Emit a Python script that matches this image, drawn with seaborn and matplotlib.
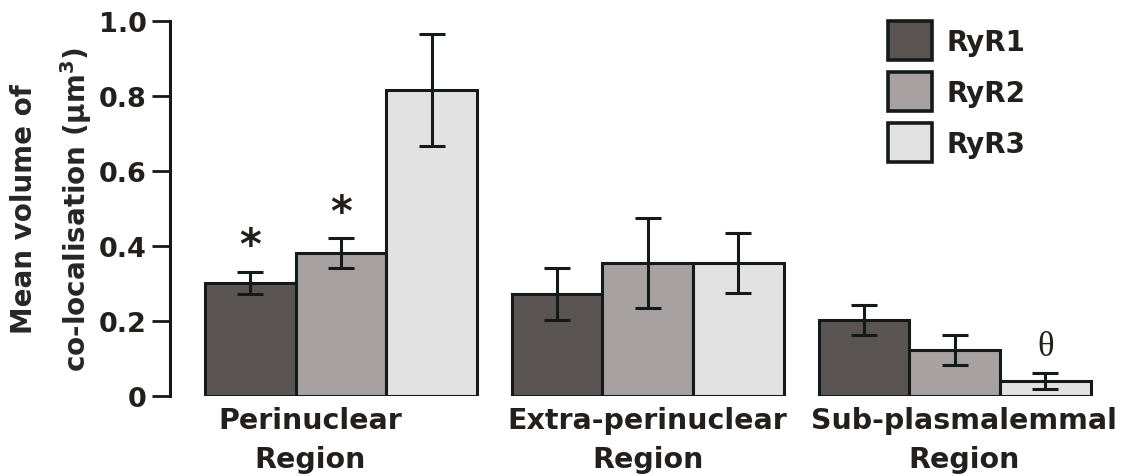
#!/usr/bin/env python3

import numpy as np
import pandas as pd
import seaborn as sns
import matplotlib.pyplot as plt

regions = ["Perinuclear\nRegion", "Extra-perinuclear\nRegion", "Sub-plasmalemmal\nRegion"]
isoforms = ["RyR1", "RyR2", "RyR3"]
# values per isoform, one per region
ryr1 = [0.302, 0.272, 0.203]
ryr2 = [0.382, 0.355, 0.123]
ryr3 = [0.816, 0.355, 0.041]
ryr1_err = [0.030, 0.070, 0.040]
ryr2_err = [0.040, 0.120, 0.040]
ryr3_err = [0.150, 0.081, 0.021]
ryr1_sig = ["*", "", ""]
ryr2_sig = ["*", "", ""]
ryr3_sig = ["", "", "θ"]
yticks = [0, 0.2, 0.4, 0.6, 0.8, 1.0]
ytick_labels = ["0", "0.2", "0.4", "0.6", "0.8", "1.0"]

colors = ["#5a5553", "#a7a2a1", "#e2e2e2"]
edge = "#141a1a"

df = pd.DataFrame({
    "region": regions * 3,
    "isoform": np.repeat(isoforms, 3),
    "value": ryr1 + ryr2 + ryr3,
})
errs = [ryr1_err, ryr2_err, ryr3_err]
sigs = [ryr1_sig, ryr2_sig, ryr3_sig]

sns.set_style("ticks")
plt.rcParams['font.family'] = ['DejaVu Sans']
plt.rcParams['font.weight'] = 'bold'
plt.rcParams['text.color'] = '#231f1c'

W, H = 1127, 477
fig = plt.figure(figsize=(W / 100, H / 100), dpi=100)
ax = fig.add_axes([170 / W, 80 / H, 938 / W, 375 / H])

sns.barplot(data=df, x="region", y="value", hue="isoform", palette=colors,
            edgecolor=edge, linewidth=2.2, width=0.886, errorbar=None,
            saturation=1, legend=True, ax=ax)

bar_conts = list(ax.containers)
for h, cont in enumerate(bar_conts):
    xs = [b.get_x() + b.get_width() / 2 for b in cont]
    ys = [b.get_height() for b in cont]
    ax.errorbar(xs, ys, yerr=errs[h], fmt="none", ecolor=edge,
                elinewidth=2.2, capsize=9.5, capthick=2.2, zorder=5)
    for x, y, e, s in zip(xs, ys, errs[h], sigs[h]):
        if s == "*":
            ax.annotate(s, (x, y + e), xytext=(0, 3), textcoords="offset points",
                        ha="center", va="bottom", fontsize=30, fontweight="bold")
        elif s:
            ax.annotate(s, (x, y + e), xytext=(0, 7), textcoords="offset points",
                        ha="center", va="bottom", fontsize=25, fontweight="normal",
                        family=["Liberation Serif", "DejaVu Serif"])

ax.set_ylim(0, 1.0)
ax.set_xlim(-0.557, 2.5)
ax.set_yticks(yticks)
ax.set_yticklabels(ytick_labels, fontsize=19.5, fontweight="bold", color="#231f1c")
ax.tick_params(axis="y", length=13, width=2, pad=4, color=edge)
ax.tick_params(axis="x", length=0, pad=7)
ax.set_xticks([-0.1, 1.0, 2.03])
ax.set_xticklabels(regions, fontsize=20.5, fontweight="bold", linespacing=1.5,
                   color="#231f1c")
ax.set_xlabel("")
ax.set_ylabel("Mean volume of\nco-localisation (μm$^3$)", fontsize=20,
              fontweight="bold", linespacing=1.75, labelpad=3)

sns.despine(ax=ax, bottom=True)
ax.spines["left"].set_linewidth(2.2)
ax.spines["left"].set_color(edge)

leg = ax.legend(loc="upper left", bbox_to_anchor=(888 / W, 1 - 22 / H),
                bbox_transform=fig.transFigure, frameon=False, borderpad=0,
                borderaxespad=0, fontsize=20, handlelength=1.6,
                handleheight=1.8, labelspacing=0.42, handletextpad=0.5,
                title=None)
for t in leg.get_texts():
    t.set_fontweight("bold")
for p in leg.get_patches():
    p.set_linewidth(2.6)

fig.savefig("out.png", dpi=100)
